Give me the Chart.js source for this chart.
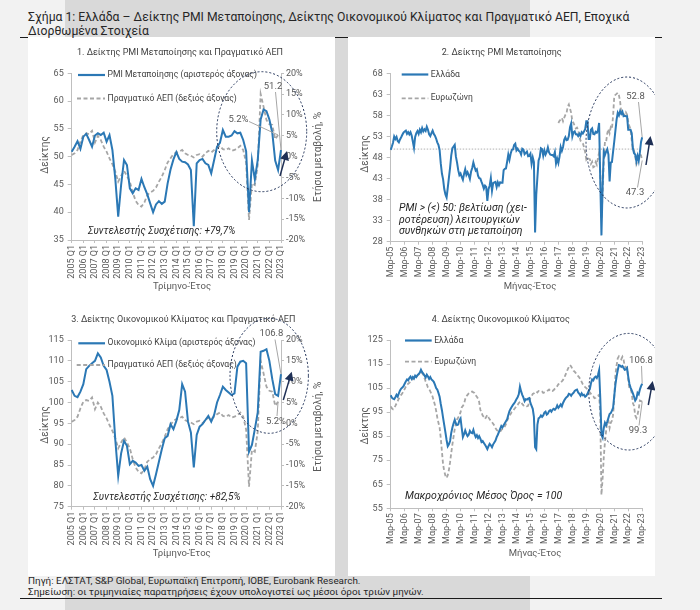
<!DOCTYPE html>
<html>
<head>
<meta charset="utf-8">
<script src="https://cdn.jsdelivr.net/npm/chart.js@4.4.1/dist/chart.umd.min.js"></script>
<style>
  body { margin: 0; width: 700px; height: 610px; background: #f2f2f2; position: relative; overflow: hidden;
         font-family: Roboto, "Noto Sans", sans-serif; }
  #band { position: absolute; left: 65px; top: 0; width: 465px; height: 610px; background: #d9d9d9; }
  .rule { position: absolute; left: 20px; width: 642px; height: 1px; background: #1a1a1a; }
  .col { position: absolute; top: 37px; height: 539px; width: 307px; background: #fff; }
  #title { position: absolute; left: 28px; top: 11px; font-size: 12.2px; line-height: 13.5px; color: #262626; white-space: nowrap; }
  #foot { position: absolute; left: 28px; top: 575px; font-size: 9.9px; line-height: 11px; color: #262626; white-space: nowrap; }
  canvas { position: absolute; }
</style>
</head>
<body>
<div id="band"></div>
<div class="rule" style="top:37px"></div>
<div class="col" style="left:28px"></div>
<div class="col" style="left:348px"></div>
<div id="title">Σχήμα 1: Ελλάδα – Δείκτης PMI Μεταποίησης, Δείκτης Οικονομικού Κλίματος και Πραγματικό ΑΕΠ, Εποχικά<br>Διορθωμένα Στοιχεία</div>
<div id="foot">Πηγή: ΕΛΣΤΑΤ, S&amp;P Global, Ευρωπαϊκή Επιτροπή, ΙΟΒΕ, Eurobank Research.<br>Σημείωση: οι τριμηνιαίες παρατηρήσεις έχουν υπολογιστεί ως μέσοι όροι τριών μηνών.</div>
<div class="rule" style="top:598px"></div>
<canvas id="c1"></canvas>
<canvas id="c2"></canvas>
<canvas id="c3"></canvas>
<canvas id="c4"></canvas>
<script>
// ---- quarterly data, 2005 Q1 .. 2023 Q1 ----
const years = [2005, 2006, 2007, 2008, 2009, 2010, 2011, 2012, 2013, 2014, 2015, 2016, 2017, 2018, 2019, 2020, 2021, 2022, 2023];
const pmiQ = [
  50.9, 51.8, 52.8, 51.4,  53.6, 54.1, 53.0, 51.8,  53.8, 54.2, 53.9, 54.3,  52.7, 53.9, 51.2, 46.0,
  39.2, 44.9, 49.4, 48.5,  44.3, 43.4, 44.3, 44.0,  46.0, 44.5, 43.2, 41.6,  40.0, 41.4, 42.0, 41.5,
  41.9, 45.2, 47.7, 49.5,  50.8, 49.6, 49.1, 49.0,  48.6, 47.6, 37.5, 48.8,  49.4, 49.6, 48.8, 48.5,
  47.0, 49.4, 51.8, 52.5,  54.8, 53.6, 53.6, 53.8,  54.6, 54.2, 54.3, 53.0,  51.0, 40.0, 49.3, 45.9,
  49.4, 56.7, 58.5, 58.2,  56.7, 54.3, 49.3, 47.6,  51.2
];
const gdpQ = [
  0.4, 0.8, 1.6, 3.6,  5.2, 5.6, 5.4, 6.2,  3.4, 5.0, 4.0, 2.4,  1.2, -0.4, -1.8, -3.6,
  -6.0, -4.6, -3.4, -4.6,  -6.0, -8.6, -10.6, -11.6,  -12.0, -11.0, -9.2, -8.6,  -8.2, -7.4, -6.0, -4.8,
  -3.2, -1.4, -0.4, 0.6,  1.0, 1.2, 1.6, 0.8,  0.4, 0.2, -0.2, 0.4,  0.6, 0.0, 0.8, 1.4,
  1.0, 1.6, 2.2, 2.6,  1.8, 1.6, 2.0, 1.4,  1.6, 2.0, 2.6, 1.6,  -1.5, -15.2, -6.4, -6.8,
  -2.0, 15.0, 12.0, 8.8,  7.8, 7.6, 4.2, 5.2,  null
];
const esiQ = [
  103.0, 101.6, 101.3, 102.6,  104.4, 108.0, 108.8, 109.4,  110.0, 111.8, 110.8, 108.8,  107.8, 105.0, 101.6, 91.0,
  82.4, 87.8, 90.8, 89.6,  85.2, 86.0, 85.6, 84.8,  85.0, 83.6, 84.6, 81.6,  80.0, 82.8, 85.8, 88.8,
  91.4, 92.0, 94.8, 93.6,  95.6, 98.2, 104.4, 102.6,  95.4, 92.8, 84.4, 92.2,  94.2, 94.8, 95.8, 96.8,
  95.4, 97.0, 100.0, 101.8,  103.8, 103.0, 102.4, 101.8,  102.2, 108.6, 109.8, 110.0,  109.4, 88.2, 89.8, 93.6,
  97.6, 112.2, 112.4, 112.8,  110.0, 105.6, 102.0, 101.6,  106.8
];

// ---- monthly data, Mar-05 .. Mar-23 ----
const monthNames = ['Ιαν', 'Φεβ', 'Μαρ', 'Απρ', 'Μαΐ', 'Ιουν', 'Ιουλ', 'Αυγ', 'Σεπ', 'Οκτ', 'Νοε', 'Δεκ'];
const pmiGR = [
  49.8, 50.6, 51.5, 53.0, 52.4, 52.9, 51.9, 51.6, 52.3, 52.8,
  53.4, 53.9, 54.2, 54.4, 53.6, 54.0, 53.5, 54.0, 53.2, 51.8, 50.3, 52.9,
  53.8, 54.3, 53.6, 54.6, 54.0, 55.0, 54.2, 54.7, 54.3, 55.3, 54.6, 53.5,
  53.1, 53.8, 54.4, 53.6, 53.2, 52.5, 51.6, 51.0, 49.8, 46.6, 44.2, 42.8,
  40.5, 39.2, 38.5, 40.8, 43.2, 45.6, 48.5, 50.2, 50.6, 51.0, 48.2, 46.8,
  45.0, 43.8, 44.2, 43.4, 42.7, 44.1, 45.2, 43.9, 44.5, 43.8, 42.9, 44.6,
  45.5, 46.8, 45.8, 44.9, 45.2, 43.7, 43.1, 43.0, 42.2, 41.5, 40.6, 41.3,
  41.0, 37.7, 40.5, 41.3, 43.1, 40.1, 41.9, 42.1, 42.2, 41.0, 42.1, 41.4,
  42.1, 42.0, 42.0, 45.0, 45.3, 45.4, 47.0, 48.7, 47.5, 48.9, 49.8, 49.9,
  51.0, 51.3, 49.7, 50.1, 49.6, 49.4, 48.7, 50.1, 49.9, 48.8, 49.1, 49.4,
  48.3, 48.4, 48.9, 46.5, 48.0, 46.9, 30.2, 39.1, 43.3, 47.3, 48.1, 50.2,
  50.0, 48.4, 49.7, 48.7, 49.3, 50.4, 49.2, 48.7, 48.6, 48.6, 48.3, 49.3,
  46.6, 47.7, 46.7, 48.2, 50.5, 49.6, 50.5, 52.2, 52.8, 52.1, 52.2, 53.1,
  55.2, 56.1, 53.0, 54.0, 54.2, 53.5, 53.5, 53.1, 53.6, 53.1, 54.0, 53.7,
  54.2, 54.7, 56.6, 56.6, 52.4, 52.4, 54.6, 54.9, 53.6, 53.5, 54.1, 53.9,
  54.4, 56.2, 42.5, 29.5, 41.1, 49.4, 48.6, 49.4, 50.0, 48.7, 42.3, 46.8,
  46.9, 49.4, 51.8, 54.4, 57.0, 58.6, 58.0, 59.0, 58.4, 58.9, 57.8, 57.9,
  57.8, 57.8, 54.6, 54.6, 54.6, 53.8, 50.2, 49.0, 48.7, 47.1, 48.4, 47.2,
  49.2, 51.7, 52.8
];
// euro area PMI is shown from Mar-17 only
const pmiEZ = Array(144).fill(null).concat([
  56.2, 56.7, 57.0, 57.4, 56.6, 57.4, 58.1, 58.5, 60.1, 60.6,
  59.6, 58.6, 56.6, 56.2, 55.5, 54.9, 55.1, 54.6, 53.2, 52.0, 51.8, 51.4,
  50.5, 49.3, 47.5, 47.9, 47.7, 47.6, 46.5, 47.0, 45.7, 45.9, 46.9, 46.3,
  47.9, 49.2, 44.5, 33.4, 39.4, 47.4, 51.8, 51.7, 53.7, 54.8, 53.8, 55.2,
  54.8, 57.9, 62.5, 62.9, 63.1, 63.4, 62.8, 61.4, 58.6, 58.3, 58.4, 58.0,
  58.7, 58.2, 56.5, 55.5, 54.6, 52.1, 49.8, 49.6, 48.4, 46.4, 47.1, 47.8,
  48.8, 48.5, 47.3
]);
const esiGR = [
  102.0, 101.0, 100.6, 100.4, 101.2, 102.2, 101.5, 102.8, 104.0, 104.8,
  105.2, 105.8, 106.8, 107.8, 108.6, 108.2, 109.2, 109.8, 108.8, 109.6, 109.0, 110.2,
  109.6, 110.4, 110.8, 111.4, 112.6, 111.6, 111.0, 110.2, 109.4, 110.6, 109.8, 108.8,
  109.6, 108.6, 108.2, 107.6, 106.4, 105.0, 104.4, 103.0, 101.4, 98.4, 95.8, 92.6,
  89.6, 86.6, 83.4, 80.8, 81.6, 83.0, 86.4, 88.6, 90.4, 91.8, 90.2, 89.6,
  89.8, 91.6, 92.4, 88.4, 84.6, 85.8, 87.4, 86.0, 85.0, 85.6, 87.2, 86.4,
  86.2, 87.6, 85.8, 84.6, 85.4, 84.2, 85.0, 84.0, 82.6, 83.0, 82.2, 81.4,
  80.6, 79.6, 80.8, 81.8, 81.2, 80.4, 81.6, 82.4, 83.2, 84.6, 85.6, 86.8,
  88.0, 89.2, 88.6, 89.6, 90.4, 91.2, 92.0, 93.8, 95.4, 96.4, 97.2, 98.0,
  98.6, 99.4, 100.4, 101.2, 102.4, 105.6, 103.6, 102.2, 101.0, 99.6, 100.4, 100.2,
  100.6, 100.8, 98.8, 97.6, 96.4, 93.0, 80.4, 79.6, 89.8, 92.4, 92.8, 93.6,
  93.0, 93.6, 94.8, 95.2, 94.0, 94.4, 95.4, 95.8, 95.2, 96.0, 96.4, 96.0,
  96.6, 97.8, 96.8, 97.4, 98.2, 97.4, 98.8, 99.8, 100.6, 101.2, 101.6, 102.6,
  102.4, 101.8, 102.6, 103.0, 103.8, 104.2, 104.4, 103.2, 102.6, 101.8, 102.8, 102.0,
  102.2, 101.4, 101.8, 102.6, 103.8, 104.6, 107.0, 108.6, 108.2, 109.4, 109.8, 109.2,
  110.4, 112.4, 100.8, 85.6, 84.4, 88.4, 90.6, 89.6, 91.0, 92.6, 94.2, 94.6,
  95.6, 96.8, 101.8, 106.4, 109.8, 112.4, 114.6, 114.4, 113.8, 114.2, 113.4, 112.6,
  112.8, 113.4, 109.8, 106.8, 105.2, 104.0, 102.8, 101.4, 99.8, 100.6, 103.0, 102.4,
  104.4, 105.8, 106.8
];
const esiEZ = [
  97.4, 96.6, 96.2, 96.8, 97.6, 98.6, 99.6, 100.6, 101.4, 102.2,
  102.8, 103.8, 104.6, 105.6, 106.4, 106.8, 107.2, 107.8, 108.0, 108.6, 109.2, 109.8,
  109.6, 110.2, 110.6, 111.0, 111.6, 111.2, 110.6, 109.2, 107.8, 106.6, 105.2, 104.6,
  103.6, 102.6, 101.4, 99.6, 98.0, 95.6, 92.8, 90.6, 88.6, 84.2, 78.6, 73.2,
  70.4, 68.6, 67.6, 68.8, 71.0, 74.2, 78.0, 81.6, 84.8, 88.0, 90.2, 92.0,
  92.8, 93.6, 95.0, 97.0, 97.6, 98.4, 100.4, 101.6, 102.2, 102.8, 103.2, 103.4,
  103.6, 103.2, 103.0, 102.0, 101.4, 100.6, 99.2, 96.0, 94.8, 93.6, 93.0, 92.2,
  93.0, 93.8, 92.8, 92.0, 91.4, 90.8, 90.2, 89.4, 88.4, 87.6, 87.2, 87.0,
  86.8, 87.6, 88.0, 88.4, 89.0, 90.0, 91.4, 92.6, 93.4, 94.2, 95.0, 95.4,
  96.2, 96.8, 97.6, 98.0, 98.8, 99.2, 99.4, 98.4, 97.8, 98.0, 97.6, 97.4,
  97.6, 99.4, 101.0, 101.6, 102.6, 102.8, 103.4, 103.6, 103.2, 103.8, 103.6, 103.8,
  103.6, 103.0, 103.2, 103.4, 103.6, 104.0, 104.4, 103.8, 104.0, 103.8, 104.2, 104.8,
  105.4, 105.8, 106.6, 106.8, 107.4, 107.8, 108.4, 109.2, 110.4, 111.6, 112.8, 113.8,
  114.6, 114.0, 113.0, 112.2, 111.8, 111.2, 110.6, 110.0, 109.4, 108.6, 107.6, 106.6,
  106.0, 105.4, 105.0, 104.4, 103.8, 103.2, 102.6, 102.0, 101.6, 100.8, 101.0, 101.6,
  101.8, 102.2, 93.6, 60.6, 67.4, 76.2, 82.6, 87.2, 91.2, 91.4, 88.4, 90.6,
  91.4, 93.8, 101.0, 110.6, 114.4, 117.4, 118.2, 117.6, 117.0, 118.0, 116.8, 114.2,
  113.6, 113.6, 108.4, 104.8, 104.6, 103.0, 98.8, 97.6, 93.6, 92.6, 94.0, 96.2,
  99.8, 99.6, 99.3
];

// axis labels
const qLabels = [];
years.forEach(y => ['Q1', 'Q2', 'Q3', 'Q4'].forEach(q => { if (qLabels.length < pmiQ.length) qLabels.push(y + ' ' + q); }));
const mLabels = [];
years.forEach(y => monthNames.forEach((m, i) => {
  if ((y === 2005 && i < 2) || (y === 2023 && i > 2)) return;
  mLabels.push(m + '-' + String(y).slice(2));
}));

const BLUE = '#2b78b5', GREY = '#a6a6a6', NAVY = '#1f3056', TXT = '#404040', TICK = '#595959', AXIS = '#bfbfbf';
const FAM = 'Roboto, "Noto Sans", sans-serif';
const font = (size, style) => (style ? style + ' ' : '') + size + 'px ' + FAM;

function text(ctx, s, x, y, f, align, color, rot) {
  ctx.save();
  ctx.font = f; ctx.fillStyle = color || TXT;
  ctx.textAlign = align || 'center'; ctx.textBaseline = 'middle';
  ctx.translate(x, y);
  if (rot) ctx.rotate(rot);
  ctx.fillText(s, 0, 0);
  ctx.restore();
}
function seg(ctx, x1, y1, x2, y2, color, w, dash) {
  ctx.save();
  ctx.strokeStyle = color; ctx.lineWidth = w; ctx.setLineDash(dash || []);
  ctx.beginPath(); ctx.moveTo(x1, y1); ctx.lineTo(x2, y2); ctx.stroke();
  ctx.restore();
}
function legendItem(ctx, x1, x2, y, dashed, label) {
  if (dashed) seg(ctx, x1, y, x2, y, GREY, 1.8, [4, 2.5]);
  else seg(ctx, x1, y, x2, y, BLUE, 2.2);
  text(ctx, label, x2 + 2.5, y, font(8.6), 'left', TXT);
}
function oval(ctx, cx, cy, rx, ry) {
  ctx.save();
  ctx.strokeStyle = NAVY; ctx.lineWidth = 1; ctx.setLineDash([2, 2]);
  ctx.beginPath(); ctx.ellipse(cx, cy, rx, ry, 0, 0, Math.PI * 2); ctx.stroke();
  ctx.restore();
}
function arrow(ctx, x1, y1, x2, y2) {
  const a = Math.atan2(y2 - y1, x2 - x1), c = Math.cos(a), s = Math.sin(a);
  seg(ctx, x1, y1, x2 - 7 * c, y2 - 7 * s, NAVY, 1.5);
  ctx.save();
  ctx.fillStyle = NAVY;
  ctx.beginPath();
  ctx.moveTo(x2, y2);
  ctx.lineTo(x2 - 9 * c + 4.5 * s, y2 - 9 * s - 4.5 * c);
  ctx.lineTo(x2 - 9 * c - 4.5 * s, y2 - 9 * s + 4.5 * c);
  ctx.closePath(); ctx.fill();
  ctx.restore();
}
function callout(ctx, s, tx, ty, lx, ly, pt) {
  text(ctx, s, tx, ty, font(9.5), 'center', TICK);
  seg(ctx, lx, ly, pt[0], pt[1], '#a6a6a6', 1);
}

function panel(id, rect, area, cfg) {
  const cv = document.getElementById(id);
  cv.width = rect.w; cv.height = rect.h;
  cv.style.left = rect.x + 'px'; cv.style.top = rect.y + 'px';
  const tickFont = { family: FAM, size: 9 };
  const scales = {
    x: {
      type: 'category', offset: false,
      grid: { drawOnChartArea: false, drawTicks: true, tickLength: 3,
              color: c => (c.index % cfg.every === 0 ? AXIS : 'rgba(0,0,0,0)') },
      border: { color: AXIS },
      ticks: { autoSkip: false, minRotation: 90, maxRotation: 90, padding: 2, color: TICK, font: tickFont,
               callback(v, i) { return i % cfg.every === 0 ? this.getLabelForValue(v) : ''; } },
      afterFit: s => { s.height = rect.y + rect.h - area.b; }
    },
    y: {
      position: 'left', min: cfg.yMin, max: cfg.yMax,
      grid: { drawOnChartArea: false, drawTicks: true, tickLength: 4, color: AXIS },
      border: { color: AXIS },
      ticks: { stepSize: cfg.yStep, padding: 4, color: TICK, font: tickFont },
      afterFit: s => { s.width = area.l - rect.x; }
    }
  };
  if (cfg.right) {
    scales.y1 = {
      position: 'right', min: -20, max: 20,
      grid: { drawOnChartArea: false, drawTicks: true, tickLength: 3, color: AXIS },
      border: { color: AXIS },
      ticks: { stepSize: 5, padding: 2, color: TICK, font: tickFont, callback: v => v + '%' },
      afterFit: s => { s.width = rect.x + rect.w - area.r; }
    };
  }
  const P = (chart, i, v, ax) => [chart.scales.x.getPixelForValue(i) + rect.x,
                                  chart.scales[ax || 'y'].getPixelForValue(v) + rect.y];
  new Chart(cv, {
    type: 'line',
    data: { labels: cfg.labels, datasets: cfg.datasets },
    options: {
      responsive: false, animation: false, events: [],
      layout: { padding: { top: area.t - rect.y, left: 0, bottom: 0, right: cfg.right ? 0 : rect.x + rect.w - area.r } },
      plugins: { legend: { display: false }, tooltip: { enabled: false } },
      elements: { point: { radius: 0 }, line: { tension: 0 } },
      scales
    },
    plugins: [{
      id: 'decor',
      beforeDatasetsDraw(chart) {
        if (!cfg.under) return;
        const ctx = chart.ctx; ctx.save(); ctx.translate(-rect.x, -rect.y);
        cfg.under(ctx, chart, (i, v, ax) => P(chart, i, v, ax));
        ctx.restore();
      },
      afterDraw(chart) {
        const ctx = chart.ctx; ctx.save(); ctx.translate(-rect.x, -rect.y);
        cfg.decor(ctx, chart, (i, v, ax) => P(chart, i, v, ax));
        ctx.restore();
      }
    }]
  });
}

const solid = (label, data, axis) => ({ label, data, yAxisID: axis || 'y', borderColor: BLUE, borderWidth: 2, fill: false });
const dashed = (label, data, axis) => ({ label, data, yAxisID: axis || 'y', borderColor: GREY, borderWidth: 1.8, borderDash: [4, 2.5], fill: false });
const vt = -Math.PI / 2;

// 1. PMI and GDP (quarterly)
panel('c1', { x: 28, y: 38, w: 307, h: 262 }, { l: 71.7, r: 281, t: 73.3, b: 240 }, {
  labels: qLabels, every: 4, yMin: 35, yMax: 65, yStep: 5, right: true,
  datasets: [solid('PMI Μεταποίησης', pmiQ), dashed('Πραγματικό ΑΕΠ', gdpQ, 'y1')],
  decor(ctx, chart, P) {
    text(ctx, '1. Δείκτης PMI Μεταποίησης και Πραγματικό ΑΕΠ', 180, 52.5, font(9), 'center', TXT);
    text(ctx, 'Δείκτης', 45, 155, font(10), 'center', TICK, vt);
    text(ctx, 'Ετήσια μεταβολή, %', 318, 157, font(10), 'center', TICK, vt);
    text(ctx, 'Τρίμηνο-Έτος', 182, 287, font(9.5), 'center', TICK);
    legendItem(ctx, 78, 105, 75, false, 'PMI Μεταποίησης (αριστερός άξονας)');
    legendItem(ctx, 77, 105, 98.5, true, 'Πραγματικό ΑΕΠ (δεξιός άξονας)');
    text(ctx, 'Συντελεστής Συσχέτισης: +79,7%', 88, 231.5, font(10, 'italic'), 'left', '#262626');
    oval(ctx, 261.7, 131.7, 45, 60);
    callout(ctx, '51.2', 273, 86.5, 275.5, 92, P(72, pmiQ[72]));
    callout(ctx, '5.2%', 238.5, 119.5, 249, 121.5, P(71, gdpQ[71], 'y1'));
    arrow(ctx, 280, 176, 287, 151);
  }
});

// 2. PMI Greece vs euro area (monthly)
panel('c2', { x: 348, y: 38, w: 307, h: 262 }, { l: 390.7, r: 642.7, t: 73.3, b: 241.7 }, {
  labels: mLabels, every: 12, yMin: 28, yMax: 68, yStep: 5, right: false,
  datasets: [solid('Ελλάδα', pmiGR), dashed('Ευρωζώνη', pmiEZ)],
  under(ctx, chart, P) {
    const a = P(0, 50), b = P(pmiGR.length - 1, 50);
    seg(ctx, a[0], a[1], b[0], b[1], '#b0b0b0', 1, [1.5, 1.5]);
  },
  decor(ctx, chart, P) {
    text(ctx, '2. Δείκτης PMI Μεταποίησης', 501.7, 53, font(9), 'center', TXT);
    text(ctx, 'Δείκτης', 365, 154, font(10), 'center', TICK, vt);
    text(ctx, 'Μήνας-Έτος', 530, 287, font(9.5), 'center', TICK);
    legendItem(ctx, 401.7, 428.3, 74.5, false, 'Ελλάδα');
    legendItem(ctx, 401.7, 428.3, 98.3, true, 'Ευρωζώνη');
    const nf = font(10.5, 'italic');
    text(ctx, 'PMI > (<) 50: βελτίωση (χει-', 399, 208.3, nf, 'left', '#262626');
    text(ctx, 'ροτέρευση) λειτουργικών', 399, 220, nf, 'left', '#262626');
    text(ctx, 'συνθηκών στη μεταποίηση', 399, 231.7, nf, 'left', '#262626');
    oval(ctx, 627, 142.5, 41, 65.5);
    callout(ctx, '52.8', 635.5, 97, 638.5, 102, P(216, pmiGR[216]));
    callout(ctx, '47.3', 635, 193, 637.5, 187.5, P(216, pmiEZ[216]));
    arrow(ctx, 646, 165, 650.5, 136);
  }
});

// 3. Economic sentiment and GDP (quarterly)
panel('c3', { x: 28, y: 304, w: 307, h: 270 }, { l: 71.7, r: 281, t: 340, b: 506.7 }, {
  labels: qLabels, every: 4, yMin: 75, yMax: 115, yStep: 5, right: true,
  datasets: [solid('Οικονομικό Κλίμα', esiQ), dashed('Πραγματικό ΑΕΠ', gdpQ, 'y1')],
  decor(ctx, chart, P) {
    text(ctx, '3. Δείκτης Οικονομικού Κλίματος και Πραγματικό ΑΕΠ', 183.3, 320, font(9), 'center', TXT);
    text(ctx, 'Δείκτης', 45, 425, font(10), 'center', TICK, vt);
    text(ctx, 'Ετήσια μεταβολή, %', 318.3, 426.7, font(10), 'center', TICK, vt);
    text(ctx, 'Τρίμηνο-Έτος', 181.7, 553.3, font(9.5), 'center', TICK);
    legendItem(ctx, 78.3, 105, 343.3, false, 'Οικονομικό Κλίμα (αριστερός άξονας)');
    legendItem(ctx, 76.7, 105, 365, true, 'Πραγματικό ΑΕΠ (δεξιός άξονας)');
    text(ctx, 'Συντελεστής Συσχέτισης: +82,5%', 93.3, 497.7, font(10, 'italic'), 'left', '#262626');
    oval(ctx, 269.2, 375.8, 39.2, 57.5);
    callout(ctx, '106.8', 271.5, 334, 275, 339.5, P(72, esiQ[72]));
    callout(ctx, '5.2%', 276, 421.5, 277, 416, P(71, gdpQ[71], 'y1'));
    arrow(ctx, 283.3, 400, 291.7, 371.7);
  }
});

// 4. Economic sentiment Greece vs euro area (monthly)
panel('c4', { x: 348, y: 304, w: 307, h: 270 }, { l: 390.7, r: 642.7, t: 340, b: 508.3 }, {
  labels: mLabels, every: 12, yMin: 55, yMax: 125, yStep: 10, right: false,
  datasets: [solid('Ελλάδα', esiGR), dashed('Ευρωζώνη', esiEZ)],
  decor(ctx, chart, P) {
    text(ctx, '4. Δείκτης Οικονομικού Κλίματος', 500.8, 320, font(9), 'center', TXT);
    text(ctx, 'Δείκτης', 365, 425.8, font(10), 'center', TICK, vt);
    text(ctx, 'Μήνας-Έτος', 535, 553.3, font(9.5), 'center', TICK);
    legendItem(ctx, 405, 431.7, 340.5, false, 'Ελλάδα');
    legendItem(ctx, 405, 431.7, 361.7, true, 'Ευρωζώνη');
    text(ctx, 'Μακροχρόνιος Μέσος Όρος = 100', 405, 496.7, font(10.5, 'italic'), 'left', '#262626');
    oval(ctx, 628.8, 391.7, 40, 58.3);
    callout(ctx, '106.8', 641, 361, 641.5, 366, P(216, esiGR[216]));
    callout(ctx, '99.3', 638, 431, 639, 425.5, P(216, esiEZ[216]));
    arrow(ctx, 648.3, 405, 652.7, 381);
  }
});
</script>
</body>
</html>
